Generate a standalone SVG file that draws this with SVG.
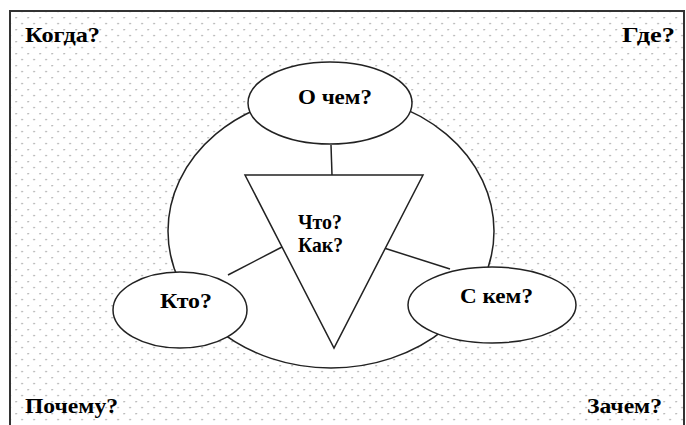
<svg xmlns="http://www.w3.org/2000/svg" width="686" height="425" viewBox="0 0 686 425">
<defs>
<pattern id="dots" x="3.5" y="5" width="12" height="12" patternUnits="userSpaceOnUse">
<circle cx="0.6" cy="0.6" r="0.8" fill="#999"/>
<circle cx="6.6" cy="6.6" r="0.8" fill="#999"/>
</pattern>
<style>
.t{font-family:"Liberation Serif","Times New Roman",serif;font-weight:bold;font-size:21px;fill:#000}
.s{fill:#fff;stroke:#222;stroke-width:1.5}
.c{stroke:#222;stroke-width:1.5;fill:none}
</style>
</defs>
<rect x="0" y="0" width="686" height="425" fill="#fff"/>
<rect x="10" y="11" width="674" height="420" fill="url(#dots)" stroke="#333" stroke-width="2"/>
<g id="corners">
<text class="t" x="25" y="42" textLength="75" lengthAdjust="spacingAndGlyphs">Когда?</text>
<text class="t" x="622" y="42" textLength="53" lengthAdjust="spacingAndGlyphs">Где?</text>
<text class="t" x="25" y="413" textLength="93" lengthAdjust="spacingAndGlyphs">Почему?</text>
<text class="t" x="587" y="413" textLength="75" lengthAdjust="spacingAndGlyphs">Зачем?</text>
</g>
<g id="circle">
<ellipse class="s" cx="331" cy="231" rx="163" ry="137"/>
</g>
<g id="connectors">
<line class="c" x1="331" y1="145" x2="332" y2="175"/>
<line class="c" x1="282" y1="247" x2="228" y2="275"/>
<line class="c" x1="384" y1="248" x2="450" y2="269"/>
</g>
<g id="triangle">
<polygon class="s" points="245,175 423,175 334,348"/>
<text class="t" x="298" y="229" textLength="44" lengthAdjust="spacingAndGlyphs">Что?</text>
<text class="t" x="298" y="252" textLength="45" lengthAdjust="spacingAndGlyphs">Как?</text>
</g>
<g id="o-chem">
<ellipse class="s" cx="330" cy="103" rx="82" ry="41"/>
<text class="t" x="298" y="104" textLength="74" lengthAdjust="spacingAndGlyphs">О чем?</text>
</g>
<g id="kto">
<ellipse class="s" cx="180" cy="310" rx="67" ry="38"/>
<text class="t" x="160" y="308" textLength="52" lengthAdjust="spacingAndGlyphs">Кто?</text>
</g>
<g id="s-kem">
<ellipse class="s" cx="492" cy="305" rx="84" ry="38"/>
<text class="t" x="460" y="303" textLength="73" lengthAdjust="spacingAndGlyphs">С кем?</text>
</g>
</svg>
